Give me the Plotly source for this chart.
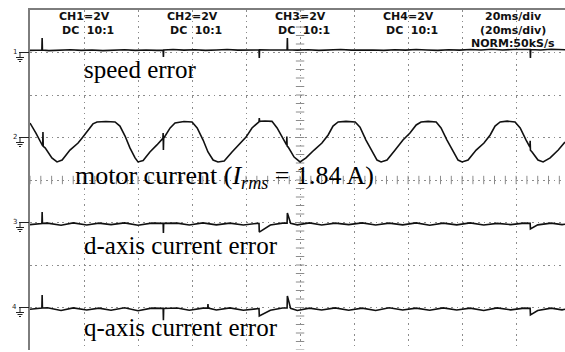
import numpy as np
import plotly.graph_objects as go

# Scope settings
MS_PER_DIV = 20          # time base
V_PER_DIV = 2            # all four channels
N_HDIV, N_VDIV = 10, 8
VISIBLE_MS = 198.1       # right part of the screen is cut off

channel_labels = ["speed error", "motor current", "d-axis current error", "q-axis current error"]
channel_ground = [7, 5, 3, 1]   # ground level of each channel, divisions from bottom

header_channels = ["CH1=2V", "CH2=2V", "CH3=2V", "CH4=2V"]
header_coupling = "DC\u00a0\u00a010:1"
header_timebase = ["20ms/div", "(20ms/div)", "NORM:50kS/s"]

# CH1: speed error (V)
ch1_t = [0, 3, 4.4, 4.5, 4.6, 7, 11, 15, 19, 23, 27, 31, 35, 39, 43, 47, 49.3, 49.4, 49.5,
         53, 57, 61, 65, 69, 73, 77, 81, 84.8, 84.9, 85, 89, 93, 95.2, 95.3, 95.4, 99, 103,
         107, 111, 115, 119, 123, 127, 131, 135, 139, 143, 147, 151, 155, 159, 163, 167, 171,
         175, 179, 183, 185.2, 185.3, 185.4, 189, 193, 198.2]
ch1_v = [0.10, 0.12, 0.12, 0.68, 0.12, 0.09, 0.11, 0.13, 0.10, 0.12, 0.09, 0.11, 0.13, 0.10,
         0.12, 0.10, 0.11, -0.21, 0.12, 0.14, 0.11, 0.13, 0.10, 0.12, 0.14, 0.11, 0.13, 0.12,
         -0.26, 0.13, 0.12, 0.14, 0.13, 0.68, 0.13, 0.11, 0.13, 0.10, 0.12, 0.14, 0.11, 0.13,
         0.12, 0.10, 0.13, 0.11, 0.14, 0.12, 0.10, 0.13, 0.11, 0.14, 0.12, 0.15, 0.12, 0.14,
         0.13, 0.14, -0.26, 0.14, 0.12, 0.15, 0.13]

# CH2: motor current (V)
ch2_t = [0.0, 2.2, 4.7, 4.8, 4.9, 5.6, 8.1, 10.0, 11.9, 14.8, 17.8, 19.3, 21.5, 23.3, 24.8,
         28.1, 31.5, 33.3, 35.2, 37.0, 38.9, 40.0, 41.9, 44.4, 47.0, 49.2, 49.3, 49.4, 49.5,
         51.9, 53.7, 57.0, 60.0, 61.9, 64.1, 65.9, 67.8, 69.6, 71.9, 74.8, 77.8, 80.0, 82.2,
         84.1, 84.8, 84.9, 85.0, 87.0, 89.6, 91.5, 93.3, 95.0, 95.1, 95.2, 95.6, 97.8, 100.0,
         102.2, 105.2, 108.1, 110.4, 112.2, 114.1, 117.0, 120.4, 122.2, 124.4, 126.7, 128.5,
         130.0, 132.2, 135.2, 138.1, 140.7, 143.0, 144.8, 147.4, 150.4, 152.2, 154.4, 156.7,
         158.5, 160.0, 162.2, 165.2, 168.1, 170.4, 172.2, 174.1, 176.7, 179.6, 181.5, 183.7,
         185.1, 185.2, 185.3, 185.9, 188.1, 190.0, 192.6, 195.6, 198.1]
ch2_v = [0.68, 0.21, -0.40, 0.26, -0.42, -0.49, -0.96, -1.15, -1.06, -0.59, -0.26, -0.02,
         0.35, 0.64, 0.73, 0.75, 0.73, 0.54, 0.07, -0.49, -0.96, -1.15, -1.08, -0.68, -0.35,
         -0.04, 0.21, -0.59, -0.04, 0.45, 0.68, 0.75, 0.73, 0.45, -0.12, -0.68, -1.06, -1.15,
         -1.11, -0.68, -0.26, 0.02, 0.45, 0.68, 0.74, 0.92, 0.76, 0.78, 0.76, 0.45, 0.07,
         -0.35, 0.05, -0.40, -0.45, -0.92, -1.15, -0.96, -0.59, -0.26, 0.12, 0.54, 0.73, 0.76,
         0.73, 0.49, -0.12, -0.68, -1.06, -1.15, -1.06, -0.59, -0.12, 0.21, 0.59, 0.73, 0.76,
         0.73, 0.45, -0.12, -0.68, -1.06, -1.15, -1.06, -0.59, -0.26, 0.12, 0.54, 0.73, 0.77,
         0.73, 0.45, -0.12, -0.45, -0.15, -0.60, -0.68, -1.06, -1.15, -0.96, -0.59, -0.21]

# CH3: d-axis current error (V)
ch3_t = [0, 2.5, 4.4, 4.5, 4.6, 6.5, 11.5, 16, 21, 25.5, 30, 35, 40, 45, 49.3, 49.4, 49.5,
         54.5, 59, 64, 69, 74, 79, 84, 84.8, 84.9, 89, 93.5, 95.2, 95.3, 96.5, 99, 103.5, 108,
         113, 118, 123, 128, 133, 138, 143, 148, 153, 158, 163, 168, 173, 178, 183, 185.2,
         185.3, 188, 193, 197, 198.2]
ch3_v = [-0.10, -0.09, -0.05, 0.49, -0.04, -0.03, -0.13, -0.02, -0.12, -0.03, -0.10, -0.02,
         -0.13, -0.03, -0.04, -0.49, -0.04, -0.03, -0.12, -0.02, -0.11, -0.03, -0.12, -0.04,
         -0.05, -0.45, -0.12, -0.03, -0.03, 0.45, -0.04, -0.11, -0.02, -0.12, -0.03, -0.10,
         -0.02, -0.12, -0.03, -0.11, -0.02, -0.13, -0.03, -0.11, -0.02, -0.12, -0.04, -0.10,
         -0.03, -0.04, -0.30, -0.11, -0.03, -0.10, -0.08]

# CH4: q-axis current error (V)
ch4_t = [0, 2.5, 4.4, 4.5, 4.6, 6.5, 11.5, 16, 21, 25.5, 30, 35, 40, 45, 49.3, 49.4, 49.5,
         54.5, 59, 64, 65.8, 65.9, 66.0, 69, 74, 79, 84, 84.8, 84.9, 89, 93.5, 95.2, 95.3,
         96.5, 99, 103.5, 108, 113, 118, 123, 128, 133, 138, 143, 148, 153, 158, 163, 168,
         173, 178, 183, 185.2, 185.3, 188, 193, 197, 198.2]
ch4_v = [-0.08, -0.05, -0.02, 0.59, -0.02, -0.01, -0.14, -0.02, -0.12, -0.03, -0.13, -0.01,
         -0.15, -0.03, -0.04, -0.60, -0.05, -0.02, -0.13, -0.03, -0.02, 0.16, -0.03, -0.12,
         -0.02, -0.13, -0.04, -0.05, -0.40, -0.13, -0.02, -0.02, 0.54, -0.04, -0.14, -0.03,
         -0.12, -0.02, -0.13, -0.03, -0.14, -0.01, -0.12, -0.03, -0.13, -0.02, -0.12, -0.03,
         -0.14, -0.02, -0.11, -0.03, -0.04, -0.35, -0.14, -0.03, -0.11, -0.08]

channels = [(ch1_t, ch1_v), (ch2_t, ch2_v), (ch3_t, ch3_v), (ch4_t, ch4_v)]
for t, v in channels:
    assert len(t) == len(v)

GRID = "#8c8c8c"
FRAME = "#7d7d7d"
TRACE = "#111111"

fig = go.Figure()

# minor ticks along the centre crosshair
fig.add_trace(go.Scatter(
    x=[N_HDIV * MS_PER_DIV / 2] * (N_VDIV * 5 + 1),
    y=np.arange(0, N_VDIV + 0.001, 0.2),
    mode="markers", hoverinfo="skip",
    marker=dict(symbol="line-ew", size=6, line=dict(color=GRID, width=1))))
fig.add_trace(go.Scatter(
    x=np.arange(0, N_HDIV * MS_PER_DIV + 0.001, MS_PER_DIV / 5),
    y=[N_VDIV / 2] * (N_HDIV * 5 + 1),
    mode="markers", hoverinfo="skip",
    marker=dict(symbol="line-ns", size=6, line=dict(color=GRID, width=1))))

for (t, v), g in zip(channels, channel_ground):
    fig.add_trace(go.Scatter(
        x=t, y=g + np.asarray(v) / V_PER_DIV, mode="lines", hoverinfo="skip",
        line=dict(color=TRACE, width=1.6)))

serif = dict(family="Liberation Serif, Times New Roman, serif", size=25, color="#000")
label_pos = [(19.3, 6.59), (15.9, 4.07), (19.3, 2.45), (19.3, 0.52)]
label_size = [25, 26, 25, 25]
label_text = [channel_labels[0],
              "motor current (<i>I<sub>rms</sub></i> = 1.84 A)",
              channel_labels[2], channel_labels[3]]
annotations = []
for txt, (x, y), sz in zip(label_text, label_pos, label_size):
    annotations.append(dict(x=x, y=y, xref="x", yref="y", text=txt, showarrow=False,
                            xanchor="left", yanchor="middle", font=dict(serif, size=sz)))

hdr = dict(family="DejaVu Sans, Arial, sans-serif", size=11, color="#111", weight="bold")
for i, name in enumerate(header_channels):
    annotations.append(dict(x=20 + 40 * i, y=7.85, xref="x", yref="y", text=name,
                            showarrow=False, font=hdr))
    annotations.append(dict(x=21.5 + 40 * i, y=7.51, xref="x", yref="y", text=header_coupling,
                            showarrow=False, font=hdr))
for txt, y in zip(header_timebase, [7.85, 7.51, 7.21]):
    annotations.append(dict(x=179, y=y, xref="x", yref="y", text=txt, showarrow=False, font=hdr))

# ground markers on the left edge
shapes = []
for i, g in enumerate(channel_ground):
    annotations.append(dict(x=0, y=g, xref="paper", yref="y", text=str(i + 1), showarrow=False,
                            xanchor="right", yanchor="middle", xshift=-11, yshift=1,
                            font=dict(family="DejaVu Sans", size=7, color="#222")))
    for x0, x1, y0, y1 in [(-11, -1, 0, 0), (-10, -10, 0, -5), (-14, -6, -5, -5),
                           (-12.5, -7.5, -7, -7), (-11, -9, -9, -9)]:
        shapes.append(dict(type="line", xref="paper", yref="y",
                           xsizemode="pixel", xanchor=0, ysizemode="pixel", yanchor=g,
                           x0=x0, x1=x1, y0=y0, y1=y1, line=dict(color="#222", width=1)))

axis_common = dict(showgrid=True, gridcolor=GRID, gridwidth=1, griddash="1.5px,3.9px",
                   showticklabels=False, ticks="", zeroline=False, showline=True,
                   linecolor=FRAME, linewidth=2, fixedrange=True)

fig.update_layout(
    width=565, height=352,
    margin=dict(l=30, r=0, t=10, b=2),
    paper_bgcolor="white", plot_bgcolor="white",
    showlegend=False,
    xaxis=dict(range=[0, VISIBLE_MS], dtick=MS_PER_DIV, tick0=0, side="top", **axis_common),
    yaxis=dict(range=[0, N_VDIV], dtick=1, tick0=0, **axis_common),
    annotations=annotations, shapes=shapes,
)

fig.write_html("out.html")
